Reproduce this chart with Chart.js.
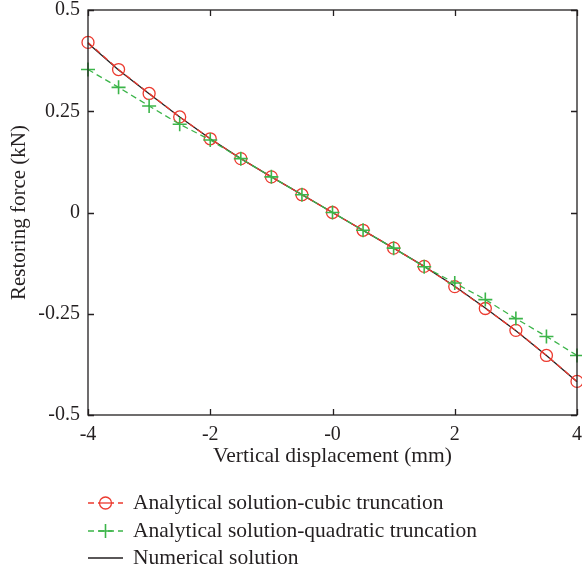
<!DOCTYPE html>
<html>
<head>
<meta charset="utf-8">
<script src="https://cdn.jsdelivr.net/npm/chart.js@4/dist/chart.umd.min.js"></script>
<style>
  html, body { margin: 0; padding: 0; background: #fff; }
  canvas { display: block; }
</style>
</head>
<body>
<canvas id="forceChart" width="582" height="574"></canvas>
<script>
// data
var displacement = [-4, -3.5, -3, -2.5, -2, -1.5, -1, -0.5, 0, 0.5, 1, 1.5, 2, 2.5, 3, 3.5, 4];
var cubicForce = [0.420, 0.353, 0.294, 0.236, 0.182, 0.133, 0.088, 0.044, 0.000, -0.044, -0.088, -0.133, -0.183, -0.237, -0.291, -0.353, -0.417];
var quadraticForce = [0.353, 0.309, 0.263, 0.218, 0.179, 0.133, 0.088, 0.044, 0.000, -0.044, -0.088, -0.134, -0.174, -0.215, -0.262, -0.306, -0.353];
var numericalForce = [0.418, 0.352, 0.293, 0.236, 0.182, 0.133, 0.088, 0.044, 0.000, -0.044, -0.088, -0.133, -0.182, -0.236, -0.292, -0.353, -0.418];

var xTicks = [-4, -2, 0, 2, 4];
var xTickLabels = ['-4', '-2', '-0', '2', '4'];
var yTicks = [0.5, 0.25, 0, -0.25, -0.5];
var yTickLabels = ['0.5', '0.25', '0', '-0.25', '-0.5'];

var legendLabels = [
    'Analytical solution-cubic truncation',
    'Analytical solution-quadratic truncation',
    'Numerical solution'
];

var RED = '#ec3a2f';
var GREEN = '#3cb54a';
var BLACK = '#231f20';
var FONT = '"Liberation Serif", "Times New Roman", serif';

function toPoints(xs, ys) {
    return xs.map(function (x, i) { return { x: x, y: ys[i] }; });
}

// frame with inward ticks on all four sides
var framePlugin = {
    id: 'frame',
    afterDatasetsDraw: function (chart) {
        var ctx = chart.ctx;
        var a = chart.chartArea;
        var xs = chart.scales.x;
        var ys = chart.scales.y;
        ctx.save();
        ctx.strokeStyle = BLACK;
        ctx.lineWidth = 1.3;
        ctx.strokeRect(a.left, a.top, a.right - a.left, a.bottom - a.top);
        ctx.beginPath();
        xTicks.forEach(function (v) {
            var px = Math.round(xs.getPixelForValue(v)) + 0.5;
            ctx.moveTo(px, a.bottom); ctx.lineTo(px, a.bottom - 6);
            ctx.moveTo(px, a.top); ctx.lineTo(px, a.top + 6);
        });
        yTicks.forEach(function (v) {
            var py = Math.round(ys.getPixelForValue(v)) + 0.5;
            ctx.moveTo(a.left, py); ctx.lineTo(a.left + 6, py);
            ctx.moveTo(a.right, py); ctx.lineTo(a.right - 6, py);
        });
        ctx.stroke();
        ctx.restore();
    }
};

// legend drawn under the axis title
var legendPlugin = {
    id: 'bottomLegend',
    afterDraw: function (chart) {
        var ctx = chart.ctx;
        var rows = [503, 531, 558];
        var x0 = 88, x1 = 123, mid = 105.5;
        ctx.save();
        ctx.font = '21.5px ' + FONT;
        ctx.textBaseline = 'middle';

        // cubic
        ctx.strokeStyle = RED;
        ctx.lineWidth = 1.3;
        ctx.setLineDash([6, 4]);
        ctx.beginPath(); ctx.moveTo(x0, rows[0]); ctx.lineTo(x1, rows[0]); ctx.stroke();
        ctx.setLineDash([]);
        ctx.fillStyle = '#fff';
        ctx.beginPath(); ctx.arc(mid, rows[0], 6, 0, Math.PI * 2); ctx.fill(); ctx.stroke();
        ctx.beginPath(); ctx.moveTo(mid - 6, rows[0]); ctx.lineTo(mid + 6, rows[0]); ctx.stroke();

        // quadratic
        ctx.strokeStyle = GREEN;
        ctx.setLineDash([6, 4]);
        ctx.beginPath(); ctx.moveTo(x0, rows[1]); ctx.lineTo(x1, rows[1]); ctx.stroke();
        ctx.setLineDash([]);
        ctx.lineWidth = 1.6;
        ctx.beginPath();
        ctx.moveTo(mid - 7, rows[1]); ctx.lineTo(mid + 7, rows[1]);
        ctx.moveTo(mid, rows[1] - 7); ctx.lineTo(mid, rows[1] + 7);
        ctx.stroke();

        // numerical
        ctx.strokeStyle = BLACK;
        ctx.lineWidth = 1.3;
        ctx.beginPath(); ctx.moveTo(x0, rows[2]); ctx.lineTo(x1, rows[2]); ctx.stroke();

        ctx.fillStyle = BLACK;
        legendLabels.forEach(function (t, i) { ctx.fillText(t, 133, rows[i]); });
        ctx.restore();
    }
};

var ctxForce = document.getElementById('forceChart').getContext('2d');
new Chart(ctxForce, {
    type: 'line',
    data: {
        datasets: [{
            label: legendLabels[0],
            data: toPoints(displacement, cubicForce),
            borderColor: RED,
            borderWidth: 1.3,
            borderDash: [6, 4],
            pointStyle: 'circle',
            pointRadius: 6,
            pointBorderWidth: 1.3,
            pointBorderColor: RED,
            pointBackgroundColor: 'rgba(0,0,0,0)',
            clip: false,
            order: 2
        }, {
            label: legendLabels[1],
            data: toPoints(displacement, quadraticForce),
            borderColor: GREEN,
            borderWidth: 1.3,
            borderDash: [6, 4],
            pointStyle: 'cross',
            pointRadius: 7,
            pointBorderWidth: 1.6,
            pointBorderColor: GREEN,
            clip: false,
            order: 1
        }, {
            label: legendLabels[2],
            data: toPoints(displacement, numericalForce),
            borderColor: BLACK,
            borderWidth: 1.3,
            pointRadius: 0,
            clip: false,
            order: 3
        }]
    },
    options: {
        responsive: false,
        animation: false,
        devicePixelRatio: 1,
        layout: {
            autoPadding: false,
            padding: { left: 0, top: 10, right: 5, bottom: 105 }
        },
        plugins: {
            legend: { display: false },
            tooltip: { enabled: false }
        },
        scales: {
            x: {
                type: 'linear',
                min: -4,
                max: 4,
                afterBuildTicks: function (scale) {
                    scale.ticks = xTicks.map(function (v) { return { value: v }; });
                },
                afterFit: function (scale) {
                    scale.height = 54;
                    scale.paddingLeft = 0;
                    scale.paddingRight = 0;
                },
                ticks: {
                    autoSkip: false,
                    maxRotation: 0,
                    padding: 8,
                    color: BLACK,
                    font: { family: FONT, size: 20 },
                    callback: function (v) { return xTickLabels[xTicks.indexOf(v)]; }
                },
                grid: { display: false, drawTicks: false },
                border: { display: false },
                title: {
                    display: true,
                    text: 'Vertical displacement (mm)',
                    color: BLACK,
                    font: { family: FONT, size: 21.5 },
                    padding: { top: 0, bottom: 0 }
                }
            },
            y: {
                type: 'linear',
                min: -0.5,
                max: 0.5,
                afterBuildTicks: function (scale) {
                    scale.ticks = yTicks.map(function (v) { return { value: v }; });
                },
                afterFit: function (scale) {
                    scale.width = 88;
                    scale.paddingTop = 0;
                    scale.paddingBottom = 0;
                },
                ticks: {
                    autoSkip: false,
                    padding: 8,
                    color: BLACK,
                    font: { family: FONT, size: 20 },
                    callback: function (v) { return yTickLabels[yTicks.indexOf(v)]; }
                },
                grid: { display: false, drawTicks: false },
                border: { display: false },
                title: {
                    display: true,
                    text: 'Restoring force (kN)',
                    color: BLACK,
                    font: { family: FONT, size: 21 },
                    padding: { top: 7, bottom: 0 }
                }
            }
        }
    },
    plugins: [framePlugin, legendPlugin]
});
</script>
</body>
</html>
